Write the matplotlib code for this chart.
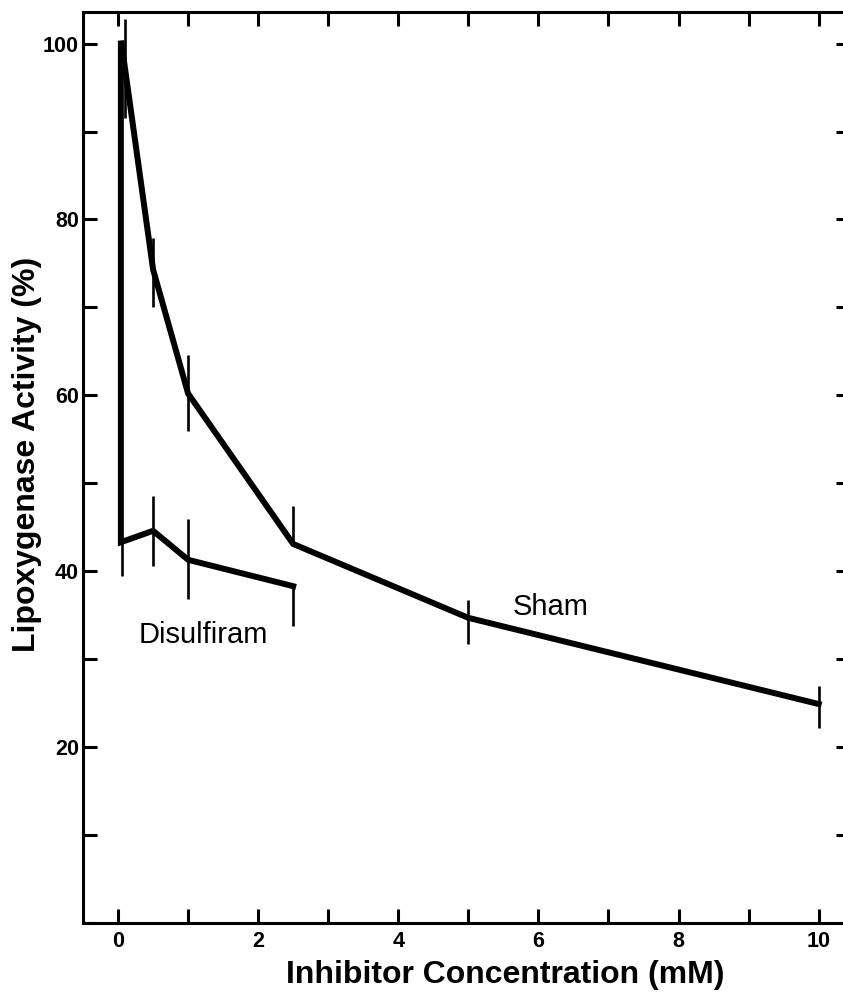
import numpy as np
import matplotlib.pyplot as plt
from matplotlib.ticker import MultipleLocator

plt.rcParams['font.family'] = ['Liberation Sans', 'DejaVu Sans']

# Sham curve
sham_x = [0.05, 0.5, 1.0, 2.5, 5.0, 10.0]
sham_y = [100, 74.3, 60.2, 43.1, 34.7, 24.9]
# sham error bars (x, low, high)
sham_err_x = [0.1, 0.5, 1.0, 2.5, 5.0, 10.0]
sham_err_lo = [91.5, 70.1, 56.0, 43.1, 31.7, 22.2]
sham_err_hi = [102.8, 77.9, 64.6, 47.4, 36.7, 27.0]

# Disulfiram curve
dis_x = [0.04, 0.04, 0.5, 1.0, 2.5]
dis_y = [100, 43.3, 44.6, 41.3, 38.3]
dis_err_x = [0.06, 0.5, 1.0, 2.5]
dis_err_lo = [39.5, 40.6, 36.8, 33.8]
dis_err_hi = [43.3, 48.6, 45.9, 38.3]

fig = plt.figure(figsize=(8.43, 9.96), dpi=100)
ax = fig.add_axes([0.0985, 0.0733, 0.91, 0.9147])

ax.plot(sham_x, sham_y, color='black', lw=4.3, solid_joinstyle='miter')
ax.plot(dis_x, dis_y, color='black', lw=4.3, solid_joinstyle='miter')
ax.vlines(sham_err_x, sham_err_lo, sham_err_hi, color='black', lw=1.9)
ax.vlines(dis_err_x, dis_err_lo, dis_err_hi, color='black', lw=1.9)

ax.text(1.22, 32.7, 'Disulfiram', fontsize=21, ha='center', va='center')
ax.text(6.18, 35.9, 'Sham', fontsize=21, ha='center', va='center')

ax.set_xlim(-0.5, 10.45)
ax.set_ylim(0, 103.6)
ax.set_xticks([0, 2, 4, 6, 8, 10])
ax.xaxis.set_minor_locator(MultipleLocator(1))
ax.set_yticks([20, 40, 60, 80, 100])
ax.yaxis.set_minor_locator(MultipleLocator(10))

ax.tick_params(which='both', direction='in', top=True, right=True,
               length=10, width=2.2, labelsize=15.5)
ax.tick_params(axis='x', pad=6)
ax.tick_params(axis='y', pad=3)
for lab in ax.get_xticklabels() + ax.get_yticklabels():
    lab.set_fontweight('bold')
for s in ax.spines.values():
    s.set_linewidth(2.2)

ax.set_xlabel('Inhibitor Concentration (mM)', fontsize=23, fontweight='bold')
ax.set_ylabel('Lipoxygenase Activity (%)', fontsize=23, fontweight='bold')
ax.xaxis.set_label_coords(0.55, -0.057)
ax.xaxis.label.set_va('center')
ax.yaxis.set_label_coords(-0.073, 0.514)
ax.yaxis.label.set_va('center')

fig.savefig('out.png', dpi=100)
